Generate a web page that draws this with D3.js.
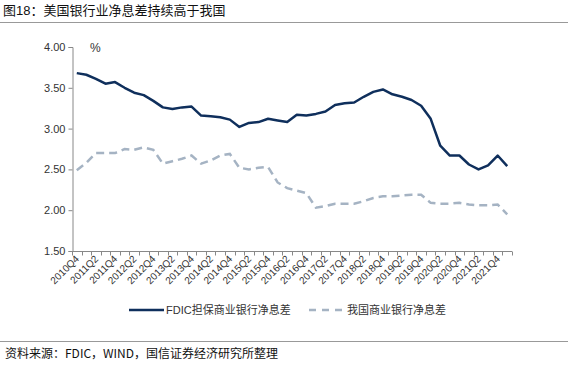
<!DOCTYPE html>
<html><head><meta charset="utf-8">
<script src="https://cdn.jsdelivr.net/npm/d3@7"></script>
<style>body{margin:0;background:#fff}svg{display:block}</style>
</head><body><svg id="c" width="568" height="365"></svg>
<script>
const quarters = ["2010Q4","2011Q1","2011Q2","2011Q3","2011Q4","2012Q1","2012Q2","2012Q3","2012Q4","2013Q1","2013Q2","2013Q3","2013Q4","2014Q1","2014Q2","2014Q3","2014Q4","2015Q1","2015Q2","2015Q3","2015Q4","2016Q1","2016Q2","2016Q3","2016Q4","2017Q1","2017Q2","2017Q3","2017Q4","2018Q1","2018Q2","2018Q3","2018Q4","2019Q1","2019Q2","2019Q3","2019Q4","2020Q1","2020Q2","2020Q3","2020Q4","2021Q1","2021Q2","2021Q3","2021Q4","2022Q1"];
const fdicNim = [3.68,3.66,3.61,3.55,3.57,3.50,3.44,3.41,3.34,3.26,3.24,3.26,3.27,3.16,3.15,3.14,3.11,3.02,3.07,3.08,3.12,3.10,3.08,3.17,3.16,3.18,3.21,3.29,3.31,3.32,3.39,3.45,3.48,3.42,3.39,3.35,3.28,3.12,2.79,2.67,2.67,2.56,2.50,2.55,2.67,2.54];
const chinaNim = [2.49,2.58,2.70,2.70,2.70,2.75,2.74,2.77,2.74,2.57,2.60,2.63,2.67,2.57,2.61,2.67,2.69,2.52,2.50,2.52,2.53,2.34,2.27,2.24,2.21,2.03,2.05,2.08,2.08,2.08,2.11,2.15,2.17,2.17,2.18,2.19,2.19,2.09,2.08,2.08,2.09,2.07,2.06,2.06,2.07,1.95];
const yTicks = [1.5,2.0,2.5,3.0,3.5,4.0];
const seriesNames = ["FDIC担保商业银行净息差","我国商业银行净息差"];
const title = "图18：美国银行业净息差持续高于我国";
const source = "资料来源：FDIC，WIND，国信证券经济研究所整理";

const svg = d3.select("#c");
const font = "Arial, 'Liberation Sans', 'Noto Sans CJK SC', sans-serif";
const L = 72, R = 512, T = 47, B = 251;

svg.append("text").attr("x",3).attr("y",15).attr("font-family",font).attr("font-size",13).attr("fill","#111").text(title);
svg.append("line").attr("x1",0).attr("x2",568).attr("y1",22.5).attr("y2",22.5).attr("stroke","#999").attr("stroke-width",1);
svg.append("line").attr("x1",0).attr("x2",568).attr("y1",341.5).attr("y2",341.5).attr("stroke","#999").attr("stroke-width",1);
svg.append("text").attr("x",5).attr("y",358).attr("font-family","'Noto Sans CJK SC', sans-serif").attr("font-size",12).attr("fill","#111").text(source);

const x = d3.scaleBand().domain(quarters).range([L,R]);
const y = d3.scaleLinear().domain([1.5,4.0]).range([B,T]);

// y axis
const ya = svg.append("g").attr("transform",`translate(${L+0.5},0)`)
  .call(d3.axisLeft(y).tickValues(yTicks).tickFormat(d3.format(".2f")).tickSizeOuter(0).tickSize(4));
ya.select(".domain").attr("stroke","#888");
ya.selectAll(".tick line").attr("stroke","#888");
ya.selectAll(".tick text").attr("font-family",font).attr("font-size",11).attr("fill","#333").attr("x",-7);

svg.append("text").attr("x",90).attr("y",52).attr("font-family",font).attr("font-size",12).attr("fill","#333").text("%");

// x axis
const xa = svg.append("g").attr("transform",`translate(0,${B+0.5})`);
xa.append("line").attr("x1",L).attr("x2",R).attr("stroke","#888");
const bounds = quarters.map(q=>x(q)).concat([R]);
xa.selectAll(".tk").data(bounds).join("line").attr("class","tk")
  .attr("x1",d=>Math.round(d)+0.5).attr("x2",d=>Math.round(d)+0.5).attr("y1",0).attr("y2",4).attr("stroke","#888");
xa.selectAll(".lb").data(quarters.filter((q,i)=>i%2===0 && i<45)).join("text").attr("class","lb")
  .attr("transform",d=>`translate(${x(d)+x.bandwidth()/2+3},${8}) rotate(-45)`)
  .attr("text-anchor","end").attr("font-family",font).attr("font-size",10).attr("fill","#333").text(d=>d);

const cx = d=>x(d)+x.bandwidth()/2;
const line = d3.line().x((d,i)=>cx(quarters[i])).y(d=>y(d));
svg.append("path").attr("d",line(chinaNim)).attr("fill","none").attr("stroke","#a5b3c3").attr("stroke-width",2.5).attr("stroke-dasharray","8,5");
svg.append("path").attr("d",line(fdicNim)).attr("fill","none").attr("stroke","#0f2f5c").attr("stroke-width",2.5).attr("stroke-linejoin","round");

// legend
const lg = svg.append("g");
lg.append("line").attr("x1",129).attr("x2",164).attr("y1",310).attr("y2",310).attr("stroke","#0f2f5c").attr("stroke-width",2.5);
lg.append("text").attr("x",166).attr("y",314).attr("font-family",font).attr("font-size",11).attr("fill","#333").text(seriesNames[0]);
lg.append("line").attr("x1",309).attr("x2",342).attr("y1",310).attr("y2",310).attr("stroke","#a5b3c3").attr("stroke-width",2.5).attr("stroke-dasharray","7,6");
lg.append("text").attr("x",347).attr("y",314).attr("font-family",font).attr("font-size",11).attr("fill","#333").text(seriesNames[1]);
</script></body></html>
